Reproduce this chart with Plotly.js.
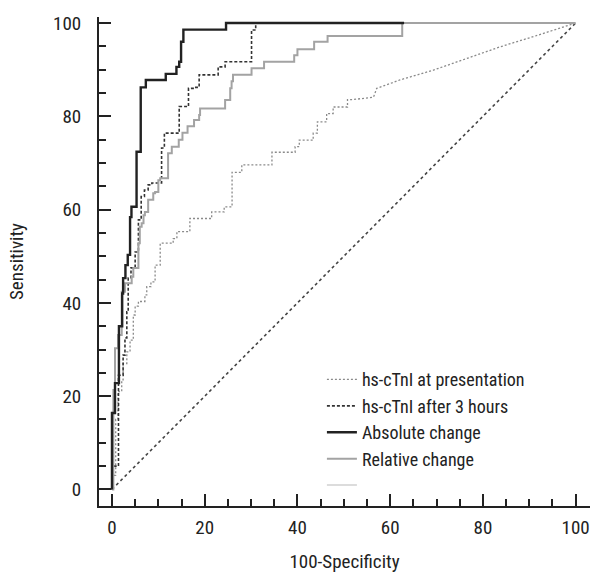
<!DOCTYPE html>
<html>
<head>
<meta charset="utf-8">
<script src="https://cdn.plot.ly/plotly-3.0.1.min.js"></script>
<style>
html,body{margin:0;padding:0;background:#fff}
#chart{width:592px;height:573px}
</style>
</head>
<body>
<div id="chart"></div>
<script>
// Series names
const seriesNames = ["hs-cTnI at presentation", "hs-cTnI after 3 hours", "Absolute change", "Relative change"];

// hs-cTnI at presentation (corner points, 100-Specificity vs Sensitivity)
const presX = [0,0,0.8,0.8,1.3,1.3,2.1,2.1,2.4,2.4,3.2,3.2,3.9,3.9,4.6,4.6,5.0,5.0,5.7,5.7,7.1,7.1,7.5,7.5,8.4,8.4,9.3,9.3,10.4,10.4,13.2,13.2,14.0,14.0,16.8,16.8,21.5,21.5,24.2,24.2,25.9,25.9,28.0,28.0,34.5,34.5,39.5,39.5,40.4,40.4,43.4,43.4,44.3,44.3,46.3,46.3,47.7,47.7,50.8,50.8,52.0,56.4,57.1,62.1,69.3,76.5,83.7,90.9,100];
const presY = [0,3,3,15,15,21,21,23.5,23.5,27,27,29.5,29.5,32,32,37.4,37.4,39.3,39.3,40.3,40.3,41.7,41.7,43.5,43.5,44.5,44.5,48.1,48.1,52.8,52.8,53.8,53.8,55.3,55.3,58.1,58.1,59.5,59.5,60.6,60.6,68.0,68.0,69.6,69.6,72.3,72.3,73.5,73.5,74.9,74.9,76.4,76.4,78.8,78.8,80.6,80.6,82.0,82.0,83.6,83.6,84.1,86.0,87.8,89.9,92.4,94.9,97.1,100];

// hs-cTnI after 3 hours (step points)
const h3X = [0,1.4,2.4,2.8,3.2,3.5,4.1,5.0,5.7,6.3,7.0,7.8,8.6,10.7,11.3,14.5,16.5,17.5,18.8,22.9,24.4,30.1,31.0,31.2];
const h3Y = [0,5,24.5,28.8,32.5,38.1,45.3,47.5,50.9,57.8,62.8,64.2,65.3,65.7,73.2,76.4,82.1,86.0,86.2,88.9,90.6,91.7,98.5,100];

// Absolute change (step points)
const absX = [0,0.65,1.5,2.2,2.4,2.9,3.4,3.9,4.2,5.3,6.2,7.3,11.6,13.9,14.5,14.9,15.4,24.6,63];
const absY = [0,16.4,22.8,35,42,45.3,48.1,50.3,58.4,60.6,72.4,86.2,87.8,89.1,90.6,91.7,96.0,98.6,100];

// Relative change (step points)
const relX = [0,0.3,0.65,1.3,2.1,2.8,4.25,4.6,5.7,6.0,6.4,6.8,7.1,7.8,8.9,9.3,10.0,10.4,12.1,12.9,14.4,15.2,16.3,17.7,18.8,19.0,24.4,25.5,25.8,26.1,30.1,32.8,39.3,40.0,43.6,46.5,62.6,100];
const relY = [0,0,21.3,30.3,33.1,42.4,44.2,45.6,47.5,52.8,56.3,57.1,58.8,59.5,62.1,63.5,63.8,66.3,66.7,72.1,73.5,75.0,76.5,77.9,79.2,80.3,81.7,83.5,86.0,87.5,88.9,90.3,91.7,93.1,94.4,96.0,97.2,100];

// Reference (chance) line
const diagX = [0, 100];
const diagY = [0, 100];

const FONT = "'Roboto Condensed', 'Liberation Sans Narrow', sans-serif";

const traces = [
  {x: diagX, y: diagY, mode: "lines", showlegend: false, hoverinfo: "skip",
   line: {color: "#444", width: 1.6, dash: "3px,3px"}},
  {x: presX, y: presY, mode: "lines", name: seriesNames[0],
   line: {color: "#8a8a8a", width: 1.3, dash: "2px,2px"}},
  {x: h3X, y: h3Y, mode: "lines", name: seriesNames[1],
   line: {color: "#333", width: 1.6, dash: "3px,2px", shape: "vh"}},
  {x: relX, y: relY, mode: "lines", name: seriesNames[3], showlegend: false,
   line: {color: "#a3a3a3", width: 2, shape: "vh"}},
  {x: absX, y: absY, mode: "lines", name: seriesNames[2],
   line: {color: "#222", width: 2.4, shape: "vh"}},
  {x: [null], y: [null], mode: "lines", name: seriesNames[3],
   line: {color: "#a3a3a3", width: 2}},
  {x: [null], y: [null], mode: "lines", name: " ",
   line: {color: "#d0d0d0", width: 1.5}}
];

const axisCommon = {
  showgrid: false, zeroline: false, showline: true, linecolor: "#222", linewidth: 2,
  ticks: "inside", ticklen: 12, tickwidth: 2, tickcolor: "#222",
  tick0: 0, dtick: 20,
  minor: {ticks: "inside", ticklen: 7, tickwidth: 2, tickcolor: "#222", dtick: 5, tick0: 0, showgrid: false},
  tickfont: {family: FONT, size: 19, color: "#222"},
  ticklabeloverflow: "allow",
  fixedrange: true
};

const layout = {
  width: 592, height: 573,
  margin: {l: 99, r: 2, t: 17, b: 67},
  paper_bgcolor: "#fff", plot_bgcolor: "#fff",
  font: {family: FONT, size: 19, color: "#222"},
  showlegend: true,
  legend: {x: 0.454, y: 0.296, xanchor: "left", yanchor: "top", bgcolor: "rgba(0,0,0,0)",
           font: {family: FONT, size: 18, color: "#222"}, traceorder: "normal"},
  xaxis: Object.assign({}, axisCommon, {
    range: [-2.8, 103.1], ticklabelstandoff: 3,
    title: {text: "100-Specificity", font: {family: FONT, size: 19, color: "#222"}, standoff: 22}
  }),
  yaxis: Object.assign({}, axisCommon, {
    range: [-3.55, 101.3], ticklabelstandoff: 12,
    title: {text: "Sensitivity", font: {family: FONT, size: 19, color: "#222"}, standoff: 24}
  })
};

Plotly.newPlot("chart", traces, layout, {displayModeBar: false, staticPlot: true});
</script>
</body>
</html>
